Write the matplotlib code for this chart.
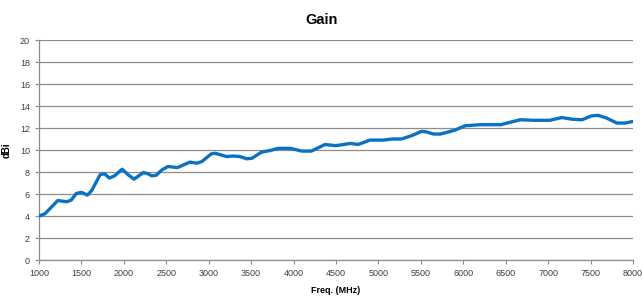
import matplotlib
matplotlib.use("Agg")
import matplotlib.pyplot as plt
import numpy as np

# values
freq_mhz = [1000, 1070, 1220, 1330, 1380, 1440, 1500, 1570, 1620, 1720, 1770, 1830,
            1890, 1980, 2050, 2120, 2230, 2280, 2330, 2380, 2450, 2520, 2630, 2780,
            2860, 2920, 3030, 3080, 3210, 3290, 3370, 3450, 3510, 3620, 3720, 3820,
            3960, 4100, 4210, 4370, 4490, 4550, 4670, 4760, 4900, 5060, 5160, 5270,
            5390, 5510, 5560, 5650, 5730, 5900, 6020, 6200, 6440, 6670, 6830, 7020,
            7160, 7280, 7400, 7510, 7590, 7690, 7810, 7910, 8000]
gain_dbi = [4.0, 4.2, 5.4, 5.3, 5.45, 6.05, 6.15, 5.9, 6.3, 7.75, 7.85, 7.45,
            7.65, 8.25, 7.75, 7.35, 7.95, 7.85, 7.65, 7.7, 8.2, 8.5, 8.4, 8.9,
            8.8, 8.95, 9.65, 9.7, 9.4, 9.45, 9.4, 9.2, 9.25, 9.8, 9.95, 10.15,
            10.15, 9.9, 9.9, 10.5, 10.4, 10.45, 10.6, 10.5, 10.9, 10.9, 11.0, 11.0,
            11.3, 11.7, 11.65, 11.45, 11.45, 11.8, 12.2, 12.3, 12.3, 12.75, 12.7, 12.7,
            12.95, 12.8, 12.75, 13.1, 13.15, 12.9, 12.45, 12.45, 12.6]
xticks = np.arange(1000, 8001, 500)
yticks = np.arange(0, 21, 2)

GRID = '#8c8c8c'
LINE = '#0a72c4'

plt.rcParams['font.family'] = ['Liberation Sans', 'DejaVu Sans']
fig = plt.figure(figsize=(6.43, 2.98), dpi=100)
ax = fig.add_axes([39/643, 38/298, 594/643, 220/298])

ax.plot(freq_mhz, gain_dbi, color=LINE, linewidth=2.4, solid_capstyle='round',
        solid_joinstyle='round', zorder=3)

ax.set_xlim(1000, 8000)
ax.set_ylim(0, 20)
ax.set_xticks(xticks)
ax.set_yticks(yticks)
ax.tick_params(labelsize=6.5, colors='#404040', length=3, width=0.8)
ax.tick_params(axis='both', color=GRID)
ax.grid(axis='y', color=GRID, linewidth=0.9, zorder=0)
for s in ('top', 'right'):
    ax.spines[s].set_visible(False)
for s in ('left', 'bottom'):
    ax.spines[s].set_color(GRID)
    ax.spines[s].set_linewidth(0.9)

ax.set_xlabel('Freq. (MHz)', fontsize=6.5, fontweight='bold', labelpad=6)
ax.set_ylabel('dBi', fontsize=7, fontweight='bold', labelpad=6)
fig.suptitle('Gain', fontsize=10.5, fontweight='bold', y=0.955)

plt.savefig('out.png', dpi=100)
